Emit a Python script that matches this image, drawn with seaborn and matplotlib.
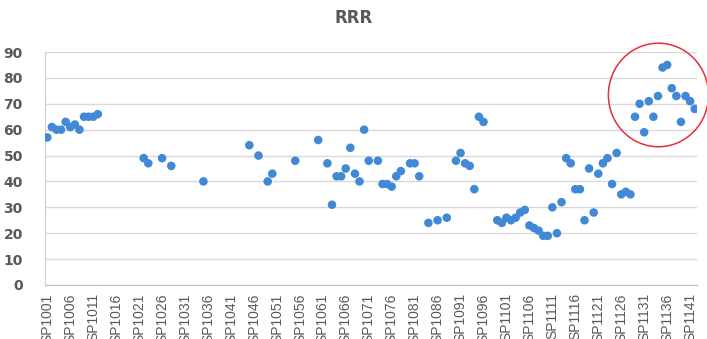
import pandas as pd
import numpy as np
import matplotlib
matplotlib.use("Agg")
import matplotlib.pyplot as plt
import seaborn as sns
from matplotlib.patches import Ellipse

# categories on the x axis: SP1001 .. SP1142
categories = ["SP%d" % n for n in range(1001, 1143)]
tick_labels = categories[::5]

# measured samples (id, value)
sample_ids = [
    "SP1001", "SP1002", "SP1003", "SP1004", "SP1005", "SP1006", "SP1007", "SP1008",
    "SP1009", "SP1010", "SP1011", "SP1012",
    "SP1022", "SP1023", "SP1026", "SP1028", "SP1035",
    "SP1045", "SP1047", "SP1049", "SP1050", "SP1055", "SP1060", "SP1062", "SP1063",
    "SP1064", "SP1065", "SP1066", "SP1067", "SP1068", "SP1069", "SP1070", "SP1071",
    "SP1073", "SP1074", "SP1075", "SP1076", "SP1077", "SP1078", "SP1080", "SP1081",
    "SP1082", "SP1084", "SP1086", "SP1088", "SP1090", "SP1091", "SP1092", "SP1093",
    "SP1094", "SP1095", "SP1096",
    "SP1099", "SP1100", "SP1101", "SP1102", "SP1103", "SP1104", "SP1105", "SP1106",
    "SP1107", "SP1108", "SP1109", "SP1110", "SP1111", "SP1112", "SP1113", "SP1114",
    "SP1115", "SP1116", "SP1117", "SP1118", "SP1119", "SP1120", "SP1121", "SP1122",
    "SP1123", "SP1124", "SP1125", "SP1126", "SP1127", "SP1128",
    "SP1129", "SP1130", "SP1131", "SP1132", "SP1133", "SP1134", "SP1135", "SP1136",
    "SP1137", "SP1138", "SP1139", "SP1140", "SP1141", "SP1142",
]
sample_values = [
    57, 61, 60, 60, 63, 61, 62, 60,
    65, 65, 65, 66,
    49, 47, 49, 46, 40,
    54, 50, 40, 43, 48, 56, 47, 31,
    42, 42, 45, 53, 43, 40, 60, 48,
    48, 39, 39, 38, 42, 44, 47, 47,
    42, 24, 25, 26, 48, 51, 47, 46,
    37, 65, 63,
    25, 24, 26, 25, 26, 28, 29, 23,
    22, 21, 19, 19, 30, 20, 32, 49,
    47, 37, 37, 25, 45, 28, 43, 47,
    49, 39, 51, 35, 36, 35,
    65, 70, 59, 71, 65, 73, 84, 85,
    76, 73, 63, 73, 71, 68,
]

df = pd.DataFrame({"id": sample_ids, "value": sample_values})
df["pos"] = df["id"].map({c: i for i, c in enumerate(categories)})

grey = "#595959"
fig = plt.figure(figsize=(7.07, 3.39), dpi=100)
ax = fig.add_axes([45 / 707, 1 - 285 / 339, 652 / 707, 233 / 339])

sns.scatterplot(data=df, x="pos", y="value", ax=ax, color="#4189d6",
                s=38, edgecolor="none", zorder=3)

ax.set_xlim(-0.5, len(categories) - 0.5)
ax.set_ylim(0, 90)
ax.set_yticks(np.arange(0, 91, 10))
ax.set_xticks([categories.index(t) for t in tick_labels])
ax.set_xticklabels(tick_labels, rotation=90, fontsize=10, color=grey,
                   family="Liberation Sans")
for lab in ax.get_yticklabels():
    lab.set_fontweight("bold")
ax.tick_params(axis="y", length=0, pad=16, labelsize=10, labelcolor=grey)
ax.tick_params(axis="x", length=0, pad=6)
ax.grid(axis="y", color="#d9d9d9", linewidth=1)
ax.set_axisbelow(True)
for side in ["top", "right"]:
    ax.spines[side].set_visible(False)
ax.spines["left"].set_color("#d0d0d0")
ax.spines["bottom"].set_color("#bfbfbf")
ax.set_xlabel("")
ax.set_ylabel("")

# red highlight ring around the high-value group
ring = Ellipse((133.1, 73.4), width=21.8, height=40, fill=False,
               edgecolor="#e0303a", linewidth=1.1, clip_on=False, zorder=4)
ax.add_patch(ring)

fig.suptitle("RRR", x=0.5, y=1 - 9 / 339, va="top", fontsize=12,
             fontweight="bold", color=grey)

fig.savefig("out.png", dpi=100)
